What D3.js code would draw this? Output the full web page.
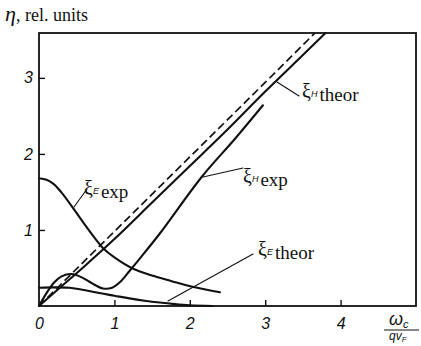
<!DOCTYPE html>
<html>
<head>
<meta charset="utf-8">
<script src="https://cdn.jsdelivr.net/npm/d3@7"></script>
<style>
  html, body { margin: 0; padding: 0; background: #fff; }
  svg { display: block; }
</style>
</head>
<body>
<svg id="chart" width="421" height="346"></svg>
<script>
// Tick values for both axes
const xTicks = [0, 1, 2, 3, 4];
const yTicks = [1, 2, 3];

// Theoretical and experimental coefficients vs. ω_c / q v_F
const xiHTheorDashed = [[0, 0], [1, 0.98], [2, 1.96], [3, 2.94], [3.66, 3.59]];
const xiHTheor = [[0, 0], [0.3, 0.26], [0.6, 0.52], [1.0, 0.88], [1.5, 1.36], [2.0, 1.84],
                  [2.5, 2.32], [3.0, 2.82], [3.5, 3.30], [3.8, 3.59]];
const xiHExp = [[0, 0], [0.1, 0.17], [0.2, 0.31], [0.3, 0.39], [0.43, 0.42], [0.56, 0.38],
                [0.7, 0.3], [0.85, 0.23], [0.97, 0.24], [1.08, 0.32], [1.2, 0.46],
                [1.35, 0.64], [1.6, 0.95], [2.16, 1.70], [2.6, 2.2], [2.97, 2.64]];
const xiETheor = [[0, 0.24], [0.2, 0.245], [0.4, 0.24], [0.6, 0.21], [0.8, 0.17], [1.0, 0.135],
                  [1.2, 0.1], [1.4, 0.07], [1.6, 0.045], [1.8, 0.025], [2.0, 0.01], [2.3, 0.0]];
const xiEExp = [[0, 1.68], [0.1, 1.66], [0.2, 1.6], [0.3, 1.49], [0.45, 1.29], [0.6, 1.08],
                [0.75, 0.88], [0.85, 0.76], [1.0, 0.64], [1.25, 0.49], [1.5, 0.4],
                [1.75, 0.33], [2.05, 0.25], [2.4, 0.18]];

const svg = d3.select("#chart");
const x = d3.scaleLinear().domain([0, 5]).range([39, 416]);
const y = d3.scaleLinear().domain([0, 3.59]).range([306, 33]);

const ink = "#111";

// frame
svg.append("rect")
  .attr("x", x(0)).attr("y", y(3.59))
  .attr("width", x(5) - x(0)).attr("height", y(0) - y(3.59))
  .attr("fill", "none").attr("stroke", ink).attr("stroke-width", 1.8);

// axes with inward ticks
const xAxis = d3.axisBottom(x).tickValues(xTicks).tickSize(-6).tickPadding(12)
  .tickFormat(d3.format("d"));
const gx = svg.append("g").attr("transform", `translate(0,${y(0)})`).call(xAxis);
const yAxis = d3.axisLeft(y).tickValues(yTicks).tickSize(-6).tickPadding(6)
  .tickFormat(d3.format("d"));
const gy = svg.append("g").attr("transform", `translate(${x(0)},0)`).call(yAxis);
[gx, gy].forEach(g => {
  g.select(".domain").remove();
  g.selectAll(".tick line").attr("stroke", ink).attr("stroke-width", 1.4);
  g.selectAll(".tick text")
    .attr("fill", ink)
    .style("font-family", "'Liberation Sans', Arial, sans-serif")
    .style("font-style", "italic")
    .style("font-size", "16px");
});
gx.selectAll(".tick").filter(d => d === 0).select("line").remove();

// curves
const line = d3.line().x(d => x(d[0])).y(d => y(d[1])).curve(d3.curveCatmullRom.alpha(0.5));
const plot = svg.append("g").attr("fill", "none").attr("stroke", ink)
  .attr("stroke-linejoin", "round").attr("stroke-linecap", "round");

plot.append("path").datum(xiHTheorDashed).attr("d", d3.line().x(d => x(d[0])).y(d => y(d[1])))
  .attr("stroke-width", 1.7).attr("stroke-dasharray", "8,4").attr("stroke-linecap", "butt");
plot.append("path").datum(xiHTheor).attr("d", line).attr("stroke-width", 2.1);
plot.append("path").datum(xiHExp).attr("d", line).attr("stroke-width", 2.1);
plot.append("path").datum(xiETheor).attr("d", line).attr("stroke-width", 2.1);
plot.append("path").datum(xiEExp).attr("d", line).attr("stroke-width", 2.1);

// leader lines from labels to curves
const leaders = [
  [[277, 82], [299, 96]],
  [[243, 168], [203, 177]],
  [[87, 189], [74, 207]],
  [[253, 254], [168, 301]]
];
plot.selectAll("line.leader").data(leaders).enter().append("line")
  .attr("class", "leader")
  .attr("x1", d => d[0][0]).attr("y1", d => d[0][1])
  .attr("x2", d => d[1][0]).attr("y2", d => d[1][1])
  .attr("stroke-width", 1.1);

// curve labels: ξ with subscript and a descriptor
function curveLabel(px, py, sub, word) {
  const t = svg.append("text").attr("x", px).attr("y", py).attr("fill", ink)
    .style("font-family", "'Liberation Serif', 'Times New Roman', serif");
  t.append("tspan").text("ξ").style("font-size", "20px");
  t.append("tspan").text(sub).attr("dy", -1)
    .style("font-size", "9px").style("font-style", "italic")
    .style("font-family", "'Liberation Sans', Arial, sans-serif");
  t.append("tspan").text(word).attr("dy", 4).attr("dx", 2)
    .style("font-size", "19px");
}
curveLabel(302, 98, "H", "theor");
curveLabel(243, 183, "H", "exp");
curveLabel(84, 195, "E", "exp");
curveLabel(258, 256, "E", "theor");

// y-axis title
const yt = svg.append("text").attr("x", 5).attr("y", 21).attr("fill", ink)
  .style("font-family", "'Liberation Serif', 'Times New Roman', serif").style("font-size", "18px");
yt.append("tspan").text("η").style("font-style", "italic").style("font-size", "22px");
yt.append("tspan").text(", rel. units");

// x-axis title as a fraction ω_c / q v_F
const xt = svg.append("g").attr("fill", ink)
  .style("font-family", "'Liberation Sans', Arial, sans-serif").style("font-style", "italic");
const num = xt.append("text").attr("x", 389).attr("y", 325);
num.append("tspan").text("ω").style("font-size", "18px");
num.append("tspan").text("c").attr("dy", 3).style("font-size", "11px");
xt.append("line").attr("x1", 384).attr("x2", 419).attr("y1", 330).attr("y2", 330)
  .attr("stroke", ink).attr("stroke-width", 1.2);
const den = xt.append("text").attr("x", 389).attr("y", 340);
den.append("tspan").text("qv").style("font-size", "12px");
den.append("tspan").text("F").attr("dy", 2).style("font-size", "8px");
</script>
</body>
</html>
